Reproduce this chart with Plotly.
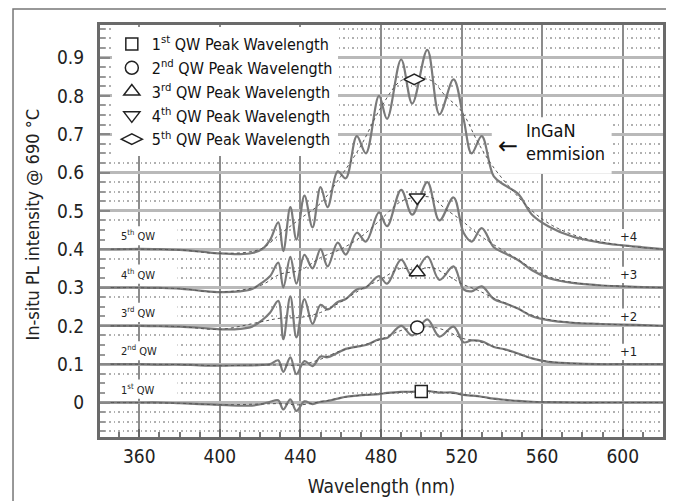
import plotly.graph_objects as go

# ---------------- data ----------------
wavelength = [340, 350, 360, 370, 380, 390, 400, 410, 416, 421, 425, 429, 431.5, 435, 438,
              442, 446, 450, 453.5, 458.5, 462.5, 468, 472.5, 479, 483, 490, 495.5, 503,
              509, 516, 521, 525, 530, 536, 542, 548, 555, 563, 575, 588, 600, 610, 620]

pl_qw1 = [0.000, 0.000, 0.000, 0.000, -0.002, -0.004, -0.006, -0.008, -0.008, -0.004, 0.002,
          0.006, -0.018, 0.008, -0.022, 0.003, -0.004, 0.002, 0.004, 0.010, 0.015, 0.018,
          0.020, 0.022, 0.025, 0.028, 0.028, 0.030, 0.026, 0.026, 0.020, 0.018, 0.015,
          0.010, 0.007, 0.004, 0.002, 0.001, 0.000, 0.000, 0.000, 0.000, 0.000]
pl_qw2 = [0.100, 0.100, 0.100, 0.099, 0.099, 0.097, 0.096, 0.097, 0.097, 0.098, 0.100,
          0.110, 0.080, 0.118, 0.074, 0.108, 0.095, 0.120, 0.118, 0.130, 0.140, 0.146,
          0.150, 0.165, 0.168, 0.200, 0.175, 0.217, 0.172, 0.198, 0.157, 0.162, 0.160,
          0.145, 0.138, 0.128, 0.115, 0.106, 0.102, 0.100, 0.100, 0.100, 0.100]
pl_qw3 = [0.200, 0.200, 0.200, 0.199, 0.198, 0.195, 0.191, 0.192, 0.198, 0.215, 0.235,
          0.265, 0.165, 0.277, 0.170, 0.270, 0.205, 0.255, 0.243, 0.262, 0.270, 0.295,
          0.300, 0.330, 0.310, 0.373, 0.330, 0.381, 0.320, 0.355, 0.295, 0.290, 0.303,
          0.270, 0.258, 0.245, 0.225, 0.215, 0.208, 0.205, 0.203, 0.202, 0.200]
pl_qw4 = [0.300, 0.300, 0.300, 0.299, 0.297, 0.292, 0.288, 0.290, 0.296, 0.313, 0.330,
          0.365, 0.300, 0.380, 0.310, 0.385, 0.350, 0.400, 0.355, 0.417, 0.386, 0.443,
          0.420, 0.496, 0.460, 0.555, 0.490, 0.575, 0.475, 0.535, 0.443, 0.420, 0.455,
          0.405, 0.388, 0.372, 0.345, 0.325, 0.312, 0.306, 0.303, 0.301, 0.300]
pl_qw5 = [0.400, 0.400, 0.401, 0.400, 0.398, 0.394, 0.389, 0.387, 0.390, 0.400, 0.425,
          0.470, 0.395, 0.510, 0.425, 0.540, 0.457, 0.562, 0.510, 0.603, 0.585, 0.695,
          0.650, 0.800, 0.740, 0.895, 0.780, 0.920, 0.752, 0.843, 0.740, 0.650, 0.695,
          0.590, 0.565, 0.545, 0.490, 0.460, 0.433, 0.418, 0.410, 0.405, 0.400]

fit_wavelength = [340, 380, 400, 420, 430, 440, 450, 460, 470, 480, 490, 497, 505, 512, 520,
                  528, 535, 545, 555, 565, 580, 600, 620]
fit_qw1 = [0.000, -0.002, -0.006, -0.004, -0.003, -0.006, 0.002, 0.012, 0.019, 0.023, 0.027,
           0.029, 0.029, 0.026, 0.021, 0.016, 0.010, 0.005, 0.002, 0.001, 0.000, 0.000, 0.000]
fit_qw2 = [0.100, 0.099, 0.096, 0.098, 0.098, 0.098, 0.113, 0.135, 0.148, 0.165, 0.188,
           0.195, 0.197, 0.188, 0.168, 0.160, 0.148, 0.132, 0.115, 0.106, 0.101, 0.100, 0.100]
fit_qw3 = [0.200, 0.198, 0.191, 0.210, 0.220, 0.222, 0.235, 0.262, 0.295, 0.322, 0.350,
           0.345, 0.352, 0.335, 0.310, 0.293, 0.275, 0.252, 0.228, 0.215, 0.207, 0.203, 0.200]
fit_qw4 = [0.300, 0.297, 0.288, 0.305, 0.335, 0.345, 0.378, 0.400, 0.432, 0.478, 0.525,
           0.535, 0.535, 0.505, 0.475, 0.440, 0.415, 0.383, 0.350, 0.325, 0.310, 0.303, 0.300]
fit_qw5 = [0.400, 0.398, 0.389, 0.400, 0.440, 0.480, 0.520, 0.590, 0.670, 0.770, 0.840,
           0.845, 0.840, 0.800, 0.760, 0.680, 0.620, 0.555, 0.500, 0.462, 0.430, 0.410, 0.400]

peak_wavelength = [500, 498, 498, 498, 496.5]
peak_intensity = [0.029, 0.196, 0.340, 0.535, 0.843]
peak_names = ["1<sup>st</sup> QW Peak Wavelength", "2<sup>nd</sup> QW Peak Wavelength",
              "3<sup>rd</sup> QW Peak Wavelength", "4<sup>th</sup> QW Peak Wavelength",
              "5<sup>th</sup> QW Peak Wavelength"]
peak_symbols = ["square", "circle", "triangle-up", "triangle-down", "diamond-wide"]
peak_sizes = [12, 13, 14, 14, 15]

qw_labels = ["1<sup>st</sup> QW", "2<sup>nd</sup> QW", "3<sup>rd</sup> QW",
             "4<sup>th</sup> QW", "5<sup>th</sup> QW"]
qw_offsets = [0.0, 0.1, 0.2, 0.3, 0.4]
offset_labels = ["+1", "+2", "+3", "+4"]
offset_label_y = [0.133, 0.225, 0.334, 0.433]

x_ticks = [360, 400, 440, 480, 520, 560, 600]
y_ticks = [0, 0.1, 0.2, 0.3, 0.4, 0.5, 0.6, 0.7, 0.8, 0.9]
y_ticktext = ["0", "0.1", "0.2", "0.3", "0.4", "0.5", "0.6", "0.7", "0.8", "0.9"]

FONT = "DejaVu Sans Condensed, Liberation Sans Narrow, sans-serif"

fig = go.Figure()

curves = [pl_qw1, pl_qw2, pl_qw3, pl_qw4, pl_qw5]
fits = [fit_qw1, fit_qw2, fit_qw3, fit_qw4, fit_qw5]
for c, f in zip(curves, fits):
    fig.add_trace(go.Scatter(x=wavelength, y=c, mode="lines", showlegend=False,
                             line=dict(color="#7a7a7a", width=2.2, shape="spline", smoothing=1.0),
                             hoverinfo="skip"))
    fig.add_trace(go.Scatter(x=fit_wavelength, y=f, mode="lines", showlegend=False,
                             line=dict(color="#555555", width=1, dash="3px,3px", shape="spline"),
                             hoverinfo="skip"))

for xw, yi, nm, sym, sz in zip(peak_wavelength, peak_intensity, peak_names, peak_symbols, peak_sizes):
    fig.add_trace(go.Scatter(x=[xw], y=[yi], mode="markers", name=nm,
                             marker=dict(symbol=sym, size=sz, color="white",
                                         line=dict(color="#222222", width=1.5))))

shapes = []
annotations = []
for lab, off in zip(qw_labels, qw_offsets):
    shapes.append(dict(type="rect", xref="x", yref="y", x0=341, x1=379, y0=off + 0.01,
                       y1=off + 0.06, fillcolor="white", line=dict(width=0), layer="between"))
    annotations.append(dict(x=350, y=off + 0.035, xref="x", yref="y", text=lab,
                            showarrow=False, xanchor="left", yanchor="middle",
                            font=dict(size=11, color="#222", family=FONT)))
for lab, yy in zip(offset_labels, offset_label_y):
    shapes.append(dict(type="rect", xref="x", yref="y", x0=594, x1=620, y0=yy - 0.022,
                       y1=yy + 0.02, fillcolor="white", line=dict(width=0), layer="between"))
    annotations.append(dict(x=597.5, y=yy, xref="x", yref="y", text=lab, showarrow=False,
                            xanchor="left", yanchor="middle",
                            font=dict(size=13, color="#222", family=FONT)))

shapes.append(dict(type="rect", xref="x", yref="y", x0=535, x1=594.5, y0=0.597, y1=0.744,
                   fillcolor="white", line=dict(width=0), layer="between"))
annotations.append(dict(x=551, y=0.681, xref="x", yref="y", text="InGaN<br>emmision",
                        showarrow=False, xanchor="left", yanchor="middle", align="left",
                        font=dict(size=18, color="#111", family=FONT)))
annotations.append(dict(x=543, y=0.668, xref="x", yref="y", text="\u2190",
                        showarrow=False, xanchor="center", yanchor="middle",
                        font=dict(size=24, color="#111", family="DejaVu Sans")))

annotations.append(dict(x=-0.1205, y=0.516, xref="paper", yref="paper",
                        text="In-situ PL intensity @ 690 \u00b0C", textangle=-90,
                        showarrow=False, xanchor="center", yanchor="middle",
                        font=dict(size=18, color="#222", family=FONT)))

shapes.append(dict(type="rect", xref="paper", yref="paper", x0=-0.1545, x1=1.0124,
                   y0=-0.2, y1=1.039, line=dict(color="#777777", width=1.5),
                   fillcolor="rgba(0,0,0,0)", layer="below"))

fig.update_layout(
    width=666, height=493,
    margin=dict(l=92, r=11, t=17, b=64, autoexpand=False),
    paper_bgcolor="white", plot_bgcolor="white",
    font=dict(family=FONT, color="#222"),
    shapes=shapes, annotations=annotations,
    legend=dict(x=0.021, y=0.995, xanchor="left", yanchor="top", bgcolor="white",
                font=dict(size=16, color="#111", family=FONT), itemwidth=30,
                tracegroupgap=0, borderwidth=0),
    xaxis=dict(range=[340.5, 620], tickvals=x_ticks, showgrid=True, gridcolor="#8c8c8c",
               gridwidth=1.5, zeroline=False, ticks="inside", ticklen=8, tickwidth=2,
               tickcolor="#666", showline=True, linecolor="#6a6a6a", linewidth=3, mirror=True,
               automargin=False,
               tickfont=dict(size=19, color="#222", family=FONT),
               minor=dict(dtick=10, ticks="inside", ticklen=5, tickwidth=1.5, tickcolor="#777",
                          showgrid=False),
               title=dict(text="Wavelength (nm)", font=dict(size=19, color="#222", family=FONT),
                          standoff=14)),
    yaxis=dict(range=[-0.09, 0.985], tickvals=y_ticks, ticktext=y_ticktext, showgrid=True,
               gridcolor="#b9b9b9", gridwidth=3, zeroline=False, ticks="inside", ticklen=10,
               tickwidth=2, tickcolor="#888", showline=True, linecolor="#6a6a6a", linewidth=3,
               mirror=True, automargin=False, ticklabelstandoff=9,
               tickfont=dict(size=19, color="#222", family=FONT),
               minor=dict(dtick=0.025, ticks="inside", ticklen=5, tickwidth=1.5, tickcolor="#999",
                          showgrid=True, gridcolor="#b0b0b0", gridwidth=2, griddash="1.5px,3px")),
)

fig.write_html("out.html")
